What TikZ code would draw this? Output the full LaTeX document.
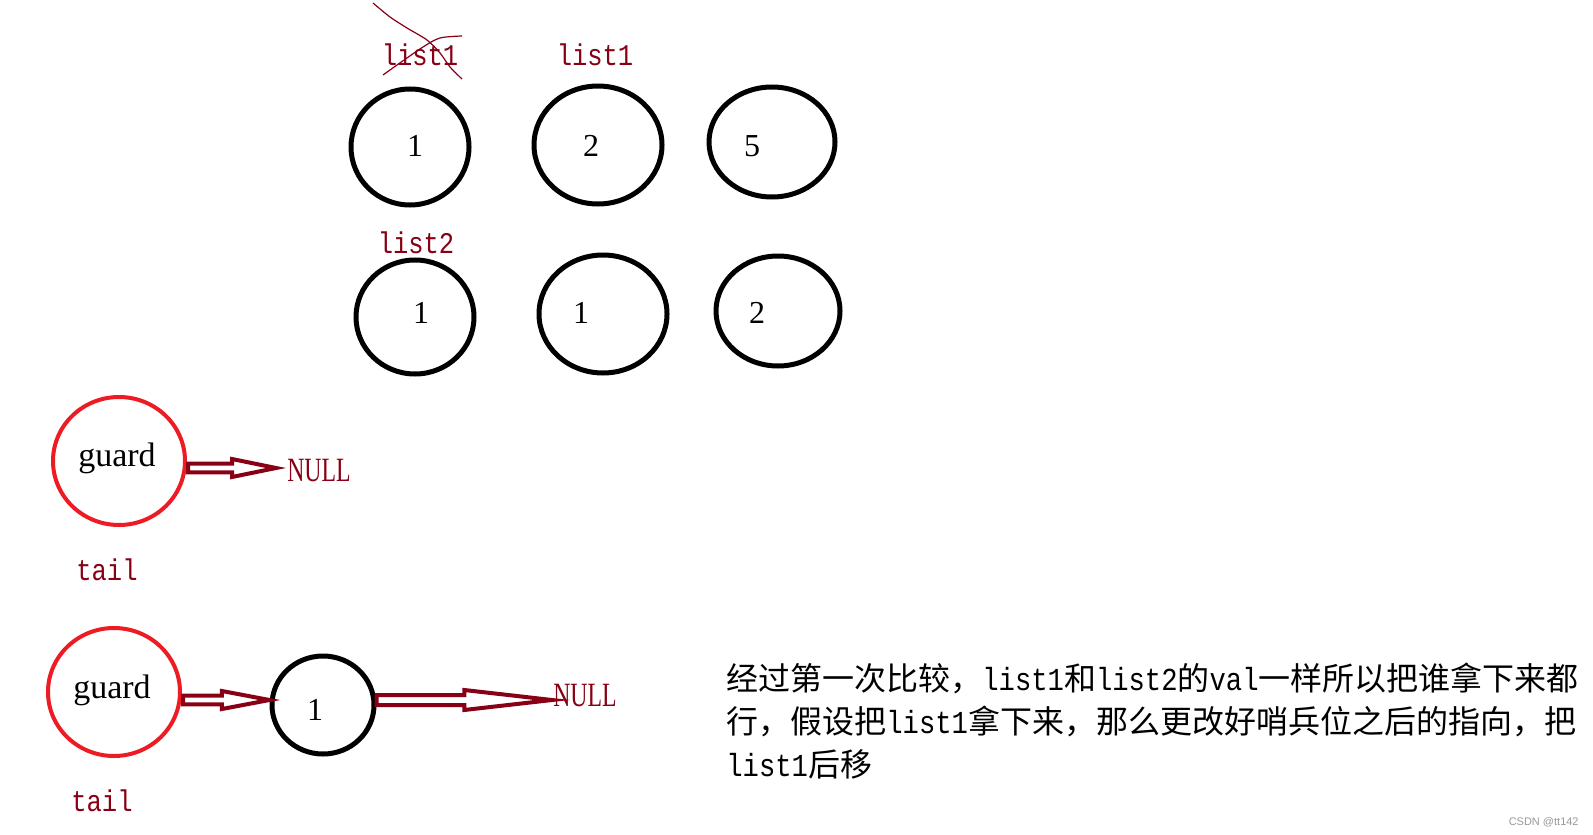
\documentclass[tikz,border=0pt]{standalone}
\usepackage{fontspec}
\setmainfont{Liberation Serif}
\newfontfamily\monof[FakeStretch=0.85]{Liberation Mono}
\newfontfamily\narrowserif[FakeStretch=0.7]{Liberation Serif}
\newfontfamily\cjk{Noto Sans CJK SC}
\newfontfamily\wmfont{Liberation Sans}
\usetikzlibrary{shapes.geometric,calc}
\definecolor{dred}{RGB}{136,0,21}
\definecolor{pred}{RGB}{237,28,36}
\tikzset{
  blk/.style={ellipse,draw=black,line width=2.5pt,inner sep=0pt},
  redc/.style={ellipse,draw=pred,line width=2pt,inner sep=0pt},
  num/.style={anchor=base,inner sep=0pt,font=\fontsize{16pt}{18pt}\selectfont},
  lbl/.style={anchor=base,inner sep=0pt,text=dred,font=\monof\fontsize{15pt}{17pt}\selectfont},
  nulltxt/.style={anchor=base,inner sep=0pt,text=dred,font=\narrowserif\fontsize{17pt}{19pt}\selectfont},
  guardtxt/.style={anchor=base,inner sep=0pt,font=\fontsize{17pt}{19pt}\selectfont},
  cjktxt/.style={anchor=base west,inner sep=0pt,font=\cjk\fontsize{16pt}{18pt}\selectfont},
  harrowst/.style={draw=dred,fill=white,line width=2pt,line join=miter},
  crossln/.style={draw=dred,line width=0.6pt},
}
\newcommand\hollowarrow[5]{%
  \draw[harrowst] let \p1=(#1), \p2=(#2), \n1={#3} in
    (\x1,\y1+#4) -- ({\x1+\n1*(\x2-\x1)},\y1+#4) -- ({\x1+\n1*(\x2-\x1)},\y1+#5)
    -- (\x2,\y2) -- ({\x1+\n1*(\x2-\x1)},\y1-#5) -- ({\x1+\n1*(\x2-\x1)},\y1-#4)
    -- (\x1,\y1-#4) -- cycle;}
\newcommand\ml[1]{{\monof #1}}
\begin{document}
\begin{tikzpicture}[x=0.5pt,y=-0.5pt]
\useasboundingbox[fill=white] (0,0) rectangle (1593,834);

% row 1
\node[blk,minimum width=59pt,minimum height=58pt] (c11) at (410,147) {};
\node[blk,minimum width=64pt,minimum height=59pt] (c12) at (598,145) {};
\node[blk,minimum width=63pt,minimum height=55pt] (c13) at (772,142) {};
\node[num] (t11) at (415,157) {1};
\node[num] (t12) at (591,157) {2};
\node[num] (t13) at (752,157) {5};

% row 2
\node[blk,minimum width=59pt,minimum height=57pt] (c21) at (415,317) {};
\node[blk,minimum width=64pt,minimum height=59pt] (c22) at (603,314) {};
\node[blk,minimum width=62pt,minimum height=55pt] (c23) at (778,311) {};
\node[num] (t21) at (421,323) {1};
\node[num] (t22) at (581,323) {1};
\node[num] (t23) at (757,323) {2};

% labels
\node[lbl] (l1old) at (420,66) {list1};
\node[lbl] (l1new) at (595,66) {list1};
\node[lbl] (l2) at (416,253) {list2};

% cross over old list1
\draw[crossln] plot[smooth] coordinates {(373,3) (390,17) (407,28) (427,40) (440,53) (450,67) (462,79)};
\draw[crossln] plot[smooth] coordinates {(383,75) (397,65) (423,47) (440,38) (462,36)};

% guard 1
\node[redc,minimum width=66pt,minimum height=64pt] (g1) at (119,461) {};
\node[guardtxt] (g1t) at (117,466) {guard};
\node[nulltxt] (null1) at (319,481) {NULL};
\node[lbl] (tail1) at (107,580) {tail};
\coordinate (a1s) at (188,468);
\coordinate (a1e) at (276,468);
\hollowarrow{a1s}{a1e}{0.5}{2.2pt}{4.5pt}

% guard 2
\node[redc,minimum width=66pt,minimum height=64pt] (g2) at (114,692) {};
\node[guardtxt] (g2t) at (112,698) {guard};
\node[blk,minimum width=51pt,minimum height=49pt] (n1) at (323,705) {};
\node[num] (n1t) at (315,720) {1};
\node[nulltxt] (null2) at (585,706) {NULL};
\node[lbl] (tail2) at (102,811) {tail};
\coordinate (a2s) at (183,700);
\coordinate (a2e) at (n1.west |- a2s);
\hollowarrow{a2s}{a2e}{0.45}{2.2pt}{4.5pt}
\coordinate (a3s) at (n1.east |- a2s);
\coordinate (a3e) at (552,700);
\hollowarrow{a3s}{a3e}{0.5}{2.5pt}{5pt}

% explanation text
\node[cjktxt] (txt1) at (726,690) {经过第一次比较，\ml{list1}和\ml{list2}的\ml{val}一样所以把谁拿下来都};
\node[cjktxt] (txt2) at (726,733) {行，假设把\ml{list1}拿下来，那么更改好哨兵位之后的指向，把};
\node[cjktxt] (txt3) at (726,776) {\ml{list1}后移};

% watermark
\node[anchor=base east,inner sep=0pt,text=black!40,font=\wmfont\fontsize{5.5pt}{6pt}\selectfont] (wm) at (1579,825) {CSDN @tt142};
\end{tikzpicture}
\end{document}
